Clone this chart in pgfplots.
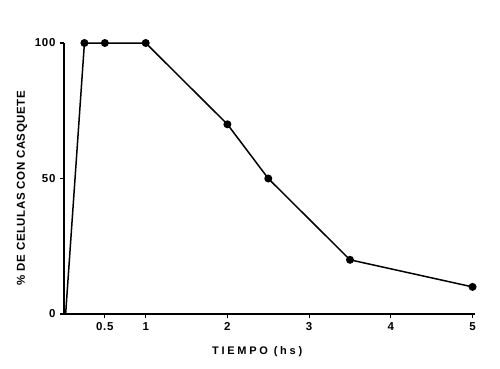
\documentclass[border=0pt]{standalone}
\usepackage{fontspec}
\setmainfont{Liberation Sans}
\usepackage{pgfplots}
\pgfplotsset{compat=1.18}
\begin{document}
\begin{tikzpicture}
\path[use as bounding box] (0,0) rectangle (500pt,368pt);
\begin{axis}[
  at={(64pt,54pt)}, anchor=south west,
  scale only axis,
  width=411pt, height=271pt,
  xmin=0, xmax=5.03, ymin=0, ymax=100,
  axis lines=left,
  axis line style={-, line width=1.6pt},
  clip=false,
  xtick={0.5,1,2,3,4,5},
  xticklabels={0.5,1,2,3,4,5},
  ytick={0,50,100},
  tick align=outside,
  major tick length=4pt,
  tick style={line width=1.2pt, black},
  /pgf/number format/assume math mode=true,
  ticklabel style={font=\bfseries\fontsize{11.5}{12}\selectfont\addfontfeature{LetterSpace=6}},
  xticklabel style={yshift=-1pt},
  yticklabel style={xshift=-1pt},
  xlabel={\addfontfeature{LetterSpace=25}TIEMPO (hs)},
  xlabel style={at={(axis description cs:0.47,-0.14)}, anchor=center, font=\bfseries\fontsize{11}{12}\selectfont},
  ylabel={\addfontfeature{LetterSpace=5}\% DE CELULAS CON CASQUETE},
  ylabel style={at={(axis description cs:-0.102,0.465)}, anchor=center, rotate=0, font=\bfseries\fontsize{11.5}{12}\selectfont},
]
\addplot[black, line width=1.5pt, mark=*, mark size=3.2pt, mark options={fill=black}]
coordinates {(0.25,100) (0.5,100) (1,100) (2,70) (2.5,50) (3.5,20) (5,10)};
\addplot[black, line width=1.5pt] coordinates {(0.02,0) (0.25,100)};
\end{axis}
\end{tikzpicture}
\end{document}
